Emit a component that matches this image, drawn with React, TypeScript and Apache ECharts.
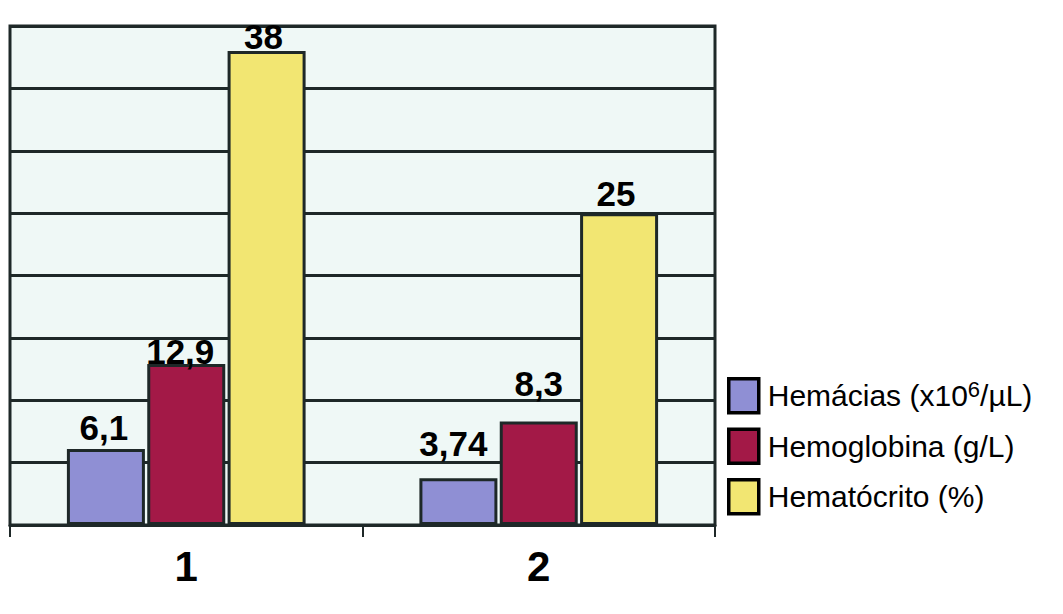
import React, { useEffect, useRef } from "react";
import * as echarts from "echarts";

const categories = ["1", "2"];
const seriesNames = ["Hemácias (x10⁶/µL)", "Hemoglobina (g/L)", "Hematócrito (%)"];
const hemacias = [6.1, 3.74];
const hemoglobina = [12.9, 8.3];
const hematocrito = [38, 25];
const colors = ["#8f8fd4", "#a31947", "#f2e672"];
// label nudges [dx, dy] in px, per series per category (placement only)
const labelNudges = [
  [[-2, -4], [-5, -17]],
  [[-6, 5], [0, -20]],
  [[-3, 3], [-3, -2]],
];

const FONT = "'Liberation Sans', Arial, sans-serif";
const DARK = "#1e2828";

export default function App() {
  const ref = useRef<HTMLDivElement>(null);
  useEffect(() => {
    if (!ref.current) return;
    const chart = echarts.init(ref.current, null, { renderer: "svg" });
    const dataSets = [hemacias, hemoglobina, hematocrito];
    const mkSeries = (i: number) => ({
      name: seriesNames[i],
      type: "bar",
      data: dataSets[i].map((v, j) => ({
        value: v,
        label: { offset: labelNudges[i][j] },
      })),
      barWidth: 78,
      barGap: "3%",
      itemStyle: { color: colors[i], borderColor: DARK, borderWidth: 3 },
      label: {
        show: true,
        position: "top",
        distance: 0,
        fontFamily: FONT,
        fontWeight: "bold",
        fontSize: 35,
        color: "#000",
        formatter: (p: any) => String(p.value).replace(".", ","),
      },
    });
    chart.setOption({
      animation: false,
      backgroundColor: "#ffffff",
      grid: {
        left: 10,
        top: 26,
        right: 348,
        bottom: 89,
        show: true,
        backgroundColor: "#eff8f6",
        borderColor: DARK,
        borderWidth: 3,
      },
      legend: {
        orient: "vertical",
        left: 727,
        top: 377,
        padding: 0,
        itemWidth: 30,
        itemHeight: 34,
        itemGap: 13,
        icon: "rect",
        textStyle: {
          fontFamily: FONT,
          fontSize: 30,
          color: "#000",
          padding: [0, 0, 0, 4],
          rich: {
            a: { fontFamily: FONT, fontSize: 30, lineHeight: 34, color: "#000" },
            s: { fontFamily: FONT, fontSize: 22, lineHeight: 22, color: "#000", verticalAlign: "top" },
          },
        },
        formatter: (name: string) => {
          if (name === seriesNames[0]) return "{a|Hemácias (x10}{s|6}{a|/µL)}";
          return "{a|" + name + "}";
        },
        itemStyle: { borderColor: "#000", borderWidth: 3.5 },
      },
      xAxis: {
        type: "category",
        data: categories,
        axisLine: { show: true, lineStyle: { color: DARK, width: 3 } },
        axisTick: { show: true, length: 12, lineStyle: { color: DARK, width: 2 } },
        axisLabel: {
          fontFamily: FONT,
          fontWeight: "bold",
          fontSize: 42,
          color: "#000",
          margin: 20,
        },
      },
      yAxis: {
        type: "value",
        min: 0,
        max: 40,
        interval: 5,
        axisLabel: { show: false },
        axisLine: { show: false },
        axisTick: { show: false },
        splitLine: { show: true, lineStyle: { color: DARK, width: 3 } },
      },
      series: [mkSeries(0), mkSeries(1), mkSeries(2)],
    });
    return () => chart.dispose();
  }, []);
  return (
    <div
      ref={ref}
      style={{ position: "fixed", left: 0, top: 0, width: 1063, height: 614 }}
    />
  );
}
